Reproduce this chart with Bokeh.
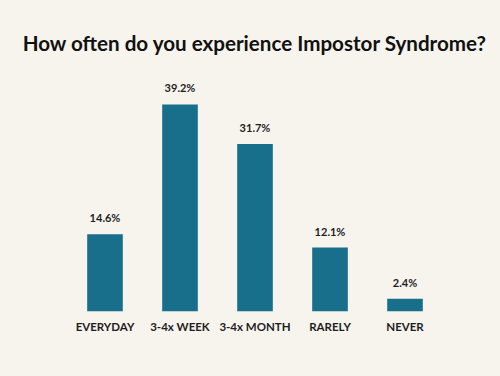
from bokeh.plotting import figure
from bokeh.models import ColumnDataSource, Range1d
from bokeh.core.properties import value
from bokeh.embed import file_html
from bokeh.resources import INLINE

categories = ["EVERYDAY", "3-4x WEEK", "3-4x MONTH", "RARELY", "NEVER"]
percent = [14.6, 39.2, 31.7, 12.1, 2.4]
labels = ["14.6%", "39.2%", "31.7%", "12.1%", "2.4%"]

BG = "#f7f4ee"
BAR = "#186f8c"
TXT = "#1e1e1e"
FONT = "Lato"

src = ColumnDataSource(dict(cat=categories, val=percent, lab=labels))

p = figure(width=500, height=376, x_range=categories, y_range=Range1d(0, 46),
           output_backend="svg", toolbar_location=None,
           background_fill_color=BG, border_fill_color=BG,
           min_border_left=67, min_border_right=58, min_border_bottom=65,
           min_border_top=68, outline_line_color=None,
           title="How often do you experience Impostor Syndrome?")
p.x_range.range_padding = 0

p.title.align = "center"
p.title.text_font = FONT
p.title.text_font_size = "20.6px"
p.title.text_font_style = "bold"
p.title.text_color = "#111111"
p.title.offset = 0
p.title.standoff = 28

p.vbar(x="cat", top="val", width=0.475, source=src, color=BAR, line_color=None)
p.text(x="cat", y="val", text="lab", source=src, text_align="center",
       text_baseline="bottom", y_offset=-10, text_font=value(FONT),
       text_font_size="11px", text_font_style="bold", text_color=TXT)

p.xgrid.visible = False
p.ygrid.visible = False
p.yaxis.visible = False
p.xaxis.axis_line_color = None
p.xaxis.major_tick_line_color = None
p.xaxis.minor_tick_line_color = None
p.xaxis.major_label_standoff = 2
p.xaxis.major_label_text_font = FONT
p.xaxis.major_label_text_font_size = "11.5px"
p.xaxis.major_label_text_font_style = "bold"
p.xaxis.major_label_text_color = TXT

html = file_html(p, INLINE)
html = html.replace("</head>", "<style>html, body { background: %s; }</style></head>" % BG, 1)
open("out.html", "w").write(html)
